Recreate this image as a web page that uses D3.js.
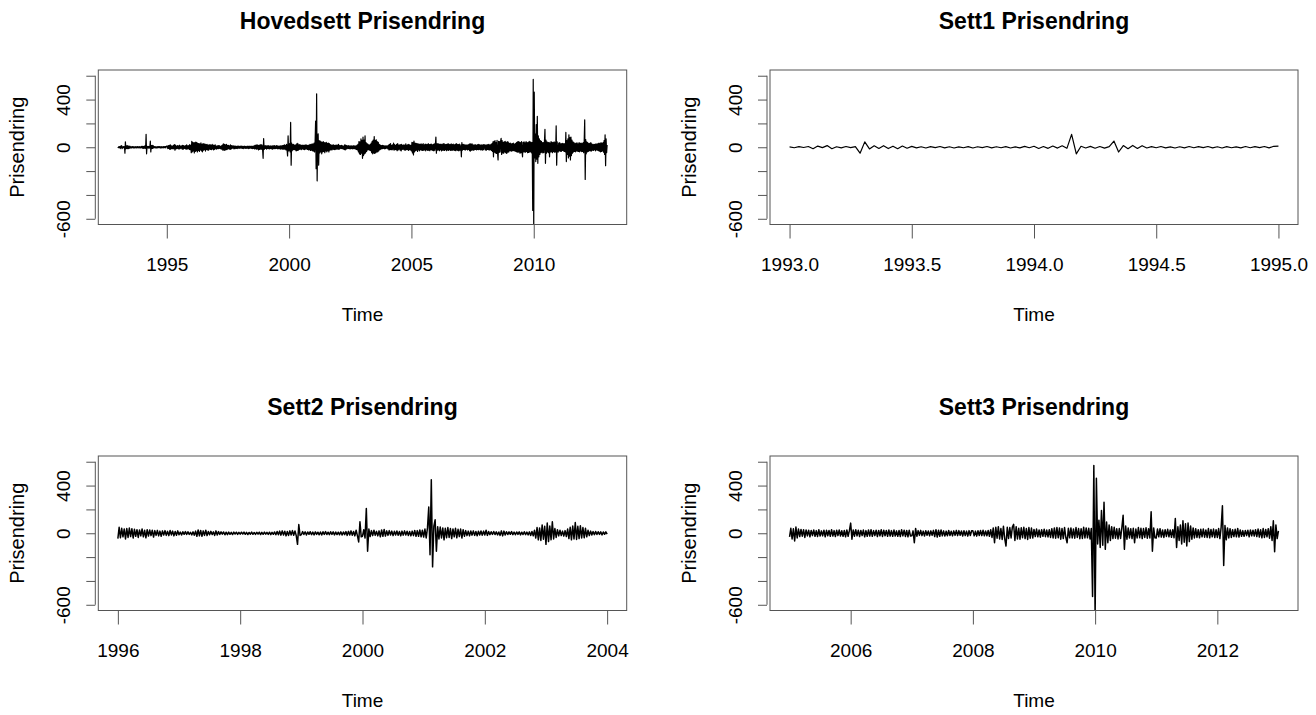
<!DOCTYPE html>
<html><head><meta charset="utf-8">
<script src="https://cdn.jsdelivr.net/npm/d3@7"></script>
<style>
body{margin:0;background:#fff}
svg{display:block}
text{font-family:"Liberation Sans",Arial,Helvetica,sans-serif;fill:#000}
</style>
</head><body>
<svg id="c" width="1316" height="715"></svg>
<script>
// ---------- data ----------
const sett1Start = 1993, sett1Freq = 52;
const sett1Vals = [
 3,-4,5,-2,6,-12,10,-3,14,-12,4,-5,6,-3,5,
 -50,45,-14,12,-10,13,-11,9,-12,10,-8,7,
 -5,4,-6,5,-3,6,-5,4,-6,3,-4,5,-6,4,-3,6,-5,4,-4,5,-6,3,-5,7,-4,
 8,-10,6,-9,10,-7,12,-9,
 108,-55,8,-6,7,-8,6,-7,5,
 52,-40,14,-12,15,-10,13,
 -6,5,-4,6,-5,3,-6,4,-5,6,-4,5,-3,6,-5,4,-6,5,-4,3,-5,6,-4,5,-3,6,-5,8,10
];
const gapFreq = 48;
const gap1995Start = 1995 + 1/48;
const gap1995Vals = [
 10,-12,14,-9,16,-18,20,-15,12,-10,9,-13,15,-11,22,-25,
 18,-14,10,-12,13,-9,11,-15,17,-12,10,-8,12,-14,16,-18,
 14,-10,9,-11,13,-15,20,-16,12,-10,14,-18,22,-20,15
];
const sett2Start = 1996, sett2Freq = 48;
const sett2Vals = [
 // 1996
 -45,50,-38,42,-30,36,-48,40,-35,44,-28,38,-40,33,-26,30,
 -35,28,-22,36,-30,25,-38,30,-24,28,-20,26,-32,22,-18,24,
 -22,18,-25,20,-15,22,-18,16,-20,24,-14,18,-22,15,-17,20,
 // 1997
 -12,10,-15,12,-9,14,-11,13,-10,8,-14,12,-16,18,-25,28,
 -22,24,-26,20,-18,25,-20,15,-13,16,-11,12,-18,20,-15,14,
 -10,12,-8,11,-13,9,-12,10,-9,8,-11,10,-7,9,-10,8,
 // 1998
 -8,9,-7,10,-9,8,-11,7,-8,10,-9,6,-10,8,-7,9,
 -11,8,-9,10,-8,7,-10,9,-12,8,-9,11,-13,15,-12,18,
 -16,20,-14,17,-22,15,-18,20,-15,22,-17,19,-20,-93,73,-18,
 // 1999
 -12,14,-10,12,-15,11,-9,13,-12,10,-14,12,-10,9,-13,11,
 -15,12,-10,14,-11,9,-12,13,-10,12,-14,10,-11,9,-13,12,
 -15,11,-12,14,-18,16,-14,20,-17,15,-22,25,-20,-73,96,-30,
 // 2000
 -25,30,-40,208,-150,35,-28,22,-20,25,-18,16,-22,20,-30,28,
 -26,32,-24,20,-18,22,-15,18,-20,16,-14,19,-17,15,-21,18,
 -16,20,-14,17,-19,15,-22,18,-20,24,-26,22,-25,28,-30,26,
 // 2001
 -32,35,-40,45,220,-180,448,-282,60,113,-150,55,-48,52,-40,45,
 -55,42,-38,48,-35,40,-45,36,-30,42,-38,33,-28,35,-40,30,
 -25,22,-20,18,-22,19,-16,20,-18,15,-21,17,-15,19,-16,18,
 // 2002
 -15,25,-18,14,-12,13,-10,15,-11,12,-14,10,-18,20,-22,18,
 -15,13,-11,12,-9,14,-12,10,-13,11,-10,12,-14,9,-11,13,
 -12,10,-14,12,-18,15,-22,25,-40,48,-55,45,-60,70,-50,58,
 // 2003
 -93,85,-70,60,-55,96,-48,40,-35,30,-22,25,-20,18,-24,22,
 -28,35,-45,50,-55,60,-48,90,-52,58,-45,62,-40,48,-38,42,
 -30,25,-20,18,-15,14,-12,15,-11,13,-10,12,-14,11,-9,12,
 -8
];
const gap2004Start = 2004 + 1/48;
const gap2004Vals = [
 12,-14,18,-22,25,-20,30,-18,15,-22,20,-16,35,-25,22,-18,
 16,-20,24,-28,30,-22,18,-15,20,-24,22,-30,25,-18,14,-16,
 20,-22,18,-25,28,-20,15,-18,22,-26,24,-20,18,-22,16
];
const sett3Start = 2005, sett3Freq = 48;
const sett3Vals = [
 // 2005
 -30,42,-48,38,-65,52,-40,35,-28,32,-25,30,-35,28,-22,26,
 -30,24,-20,28,-25,22,-27,30,-24,20,-22,26,-30,25,-21,23,
 -26,30,-24,22,-28,25,-20,27,-23,21,-26,24,-30,28,-25,22,
 // 2006
 85,-50,28,-25,30,-22,26,-28,24,-20,27,-30,22,-25,28,-24,
 30,-26,22,-20,25,-28,24,-22,30,-27,25,-21,23,-26,28,-24,
 22,-25,27,-23,20,-26,24,-28,30,-22,25,-27,23,-30,26,-24,
 // 2007
 -22,20,-80,40,-25,22,-18,24,-20,18,-23,21,-17,19,-22,20,
 -18,24,-28,30,-32,26,-25,28,-22,20,-24,18,-21,23,-19,17,
 -22,20,-18,24,-20,22,-17,19,-23,21,-20,18,-24,22,-19,21,
 // 2008
 20,-22,18,-24,21,-19,23,-20,25,-22,19,-21,24,-26,30,-35,
 45,-80,50,-42,55,-48,40,-52,58,-45,-107,50,-44,48,-40,52,
 75,-60,55,-48,42,-50,46,-38,50,-45,40,-52,48,-42,44,-40,
 // 2009
 32,-28,35,-30,28,-33,30,-26,34,-29,27,-31,30,-35,38,-40,
 45,-42,48,-38,44,-50,40,-45,48,-36,-80,42,-38,45,-40,36,
 -42,48,-35,40,-46,38,-44,50,-40,45,-38,42,-48,40,-530,569,
 // 2010
 -700,462,-90,110,-120,190,-100,260,-135,95,-80,70,-60,55,-45,50,
 -42,38,-48,40,-44,45,150,-135,60,-50,45,-40,38,-45,42,-80,
 35,-40,48,-38,42,-45,40,-35,46,-42,38,-40,180,-150,45,-38,
 // 2011
 -40,35,-30,38,-32,28,-35,30,-27,33,-30,28,-34,30,-38,124,
 -120,55,-60,70,-90,104,-75,80,-107,85,-70,60,-50,45,-40,38,
 -35,30,-38,34,-30,36,-33,28,-35,40,-38,32,-30,35,-36,30,
 // 2012
 -35,40,-45,50,230,-270,65,-55,45,-40,38,-35,30,-28,33,-30,
 40,-32,28,-25,22,-26,24,-20,25,-30,28,-22,26,-24,30,-28,
 35,-32,30,-38,40,-35,32,-30,38,-42,55,-60,104,-155,70,-45,
 20
];

const titles = ["Hovedsett Prisendring","Sett1 Prisendring","Sett2 Prisendring","Sett3 Prisendring"];
const xTicksMain  = [1995,2000,2005,2010];
const xTicksSett1 = [1993.0,1993.5,1994.0,1994.5,1995.0];
const xTicksSett2 = [1996,1998,2000,2002,2004];
const xTicksSett3 = [2006,2008,2010,2012];
const yTicks = [-600,-400,-200,0,200,400,600];
const yTickLabels = [-600,0,400];
const yLim = [-600,600];
const xLabel = "Time", yLabel = "Prisendring";

// ---------- build series ----------
const toSeries = (start, freq, vals) => vals.map((v,i)=>({t:start + i/freq, v}));
const s1 = toSeries(sett1Start, sett1Freq, sett1Vals);
const g95 = toSeries(gap1995Start, gapFreq, gap1995Vals);
const s2 = toSeries(sett2Start, sett2Freq, sett2Vals);
const g04 = toSeries(gap2004Start, gapFreq, gap2004Vals);
const s3 = toSeries(sett3Start, sett3Freq, sett3Vals);
const main = [].concat(s1, g95, s2, g04, s3);

const cols = [{x0:98.3,x1:626.7},{x0:770,x1:1298}];
const rows = [{y0:70,y1:224.5},{y0:456,y1:610.5}];

const panels = [
 {title:titles[0], data:main, ticks:xTicksMain,  fmt:d=>String(d),     col:0,row:0, sw:1.2},
 {title:titles[1], data:s1,   ticks:xTicksSett1, fmt:d=>d.toFixed(1),  col:1,row:0, sw:1.2},
 {title:titles[2], data:s2,   ticks:xTicksSett2, fmt:d=>String(d),     col:0,row:1, sw:1.5},
 {title:titles[3], data:s3,   ticks:xTicksSett3, fmt:d=>String(d),     col:1,row:1, sw:1.5}
];

const svg = d3.select("#c");
const axisCol = "#555";
const FS = 19;

panels.forEach((p,pi)=>{
  const {x0,x1} = cols[p.col], {y0,y1} = rows[p.row];
  const ext = d3.extent(p.data, d=>d.t);
  const dx = (ext[1]-ext[0])*0.04;
  const x = d3.scaleLinear().domain([ext[0]-dx, ext[1]+dx]).range([x0,x1]);
  const dy = (yLim[1]-yLim[0])*0.04;
  const y = d3.scaleLinear().domain([yLim[0]-dy, yLim[1]+dy]).range([y1,y0]);

  const g = svg.append("g");
  const cid = "clip"+pi;
  svg.append("clipPath").attr("id",cid).append("rect")
     .attr("x",x0).attr("y",y0).attr("width",x1-x0).attr("height",y1-y0);

  g.append("path").datum(p.data)
   .attr("clip-path",`url(#${cid})`)
   .attr("fill","none").attr("stroke","#000").attr("stroke-width",p.sw)
   .attr("stroke-linejoin","round")
   .attr("d", d3.line().x(d=>x(d.t)).y(d=>y(d.v)));

  g.append("rect").attr("x",x0).attr("y",y0).attr("width",x1-x0).attr("height",y1-y0)
   .attr("fill","none").attr("stroke",axisCol).attr("stroke-width",1);

  // x axis
  const xa = g.append("g").attr("transform",`translate(0,${y1})`)
    .call(d3.axisBottom(x).tickValues(p.ticks).tickSize(14).tickSizeOuter(0).tickPadding(19).tickFormat(p.fmt));
  xa.select(".domain").remove();
  xa.selectAll(".tick line").attr("stroke",axisCol);
  xa.selectAll(".tick text").attr("font-size",FS).attr("font-family","Liberation Sans, Arial, sans-serif").attr("fill","#111");
  xa.append("line").attr("x1",x(p.ticks[0])).attr("x2",x(p.ticks[p.ticks.length-1]))
    .attr("stroke",axisCol);

  // y axis
  const ya = g.append("g").attr("transform",`translate(${x0-3},0)`)
    .call(d3.axisLeft(y).tickValues(yTicks).tickSize(9).tickSizeOuter(0)
      .tickFormat(d=> yTickLabels.includes(d) ? String(d) : ""));
  ya.select(".domain").remove();
  ya.selectAll(".tick line").attr("stroke",axisCol);
  ya.selectAll(".tick text").attr("font-size",FS).attr("font-family","Liberation Sans, Arial, sans-serif").attr("fill","#111")
    .attr("x",0).attr("dy",0).attr("text-anchor","middle")
    .attr("transform","translate(-25,0) rotate(-90)");
  ya.append("line").attr("y1",y(yTicks[0])).attr("y2",y(yTicks[yTicks.length-1])).attr("stroke",axisCol);

  // titles & labels
  const cx = (x0+x1)/2, cy = (y0+y1)/2;
  g.append("text").attr("x",cx).attr("y",y0-41).attr("text-anchor","middle")
   .attr("font-size",23).attr("font-weight","bold").text(p.title);
  g.append("text").attr("x",cx).attr("y",y1+96.5).attr("text-anchor","middle")
   .attr("font-size",FS).attr("fill","#111").text(xLabel);
  g.append("text").attr("transform",`translate(${x0-74.5},${cy}) rotate(-90)`).attr("text-anchor","middle")
   .attr("font-size",FS+1).attr("fill","#111").text(yLabel);
});
</script>
</body></html>
